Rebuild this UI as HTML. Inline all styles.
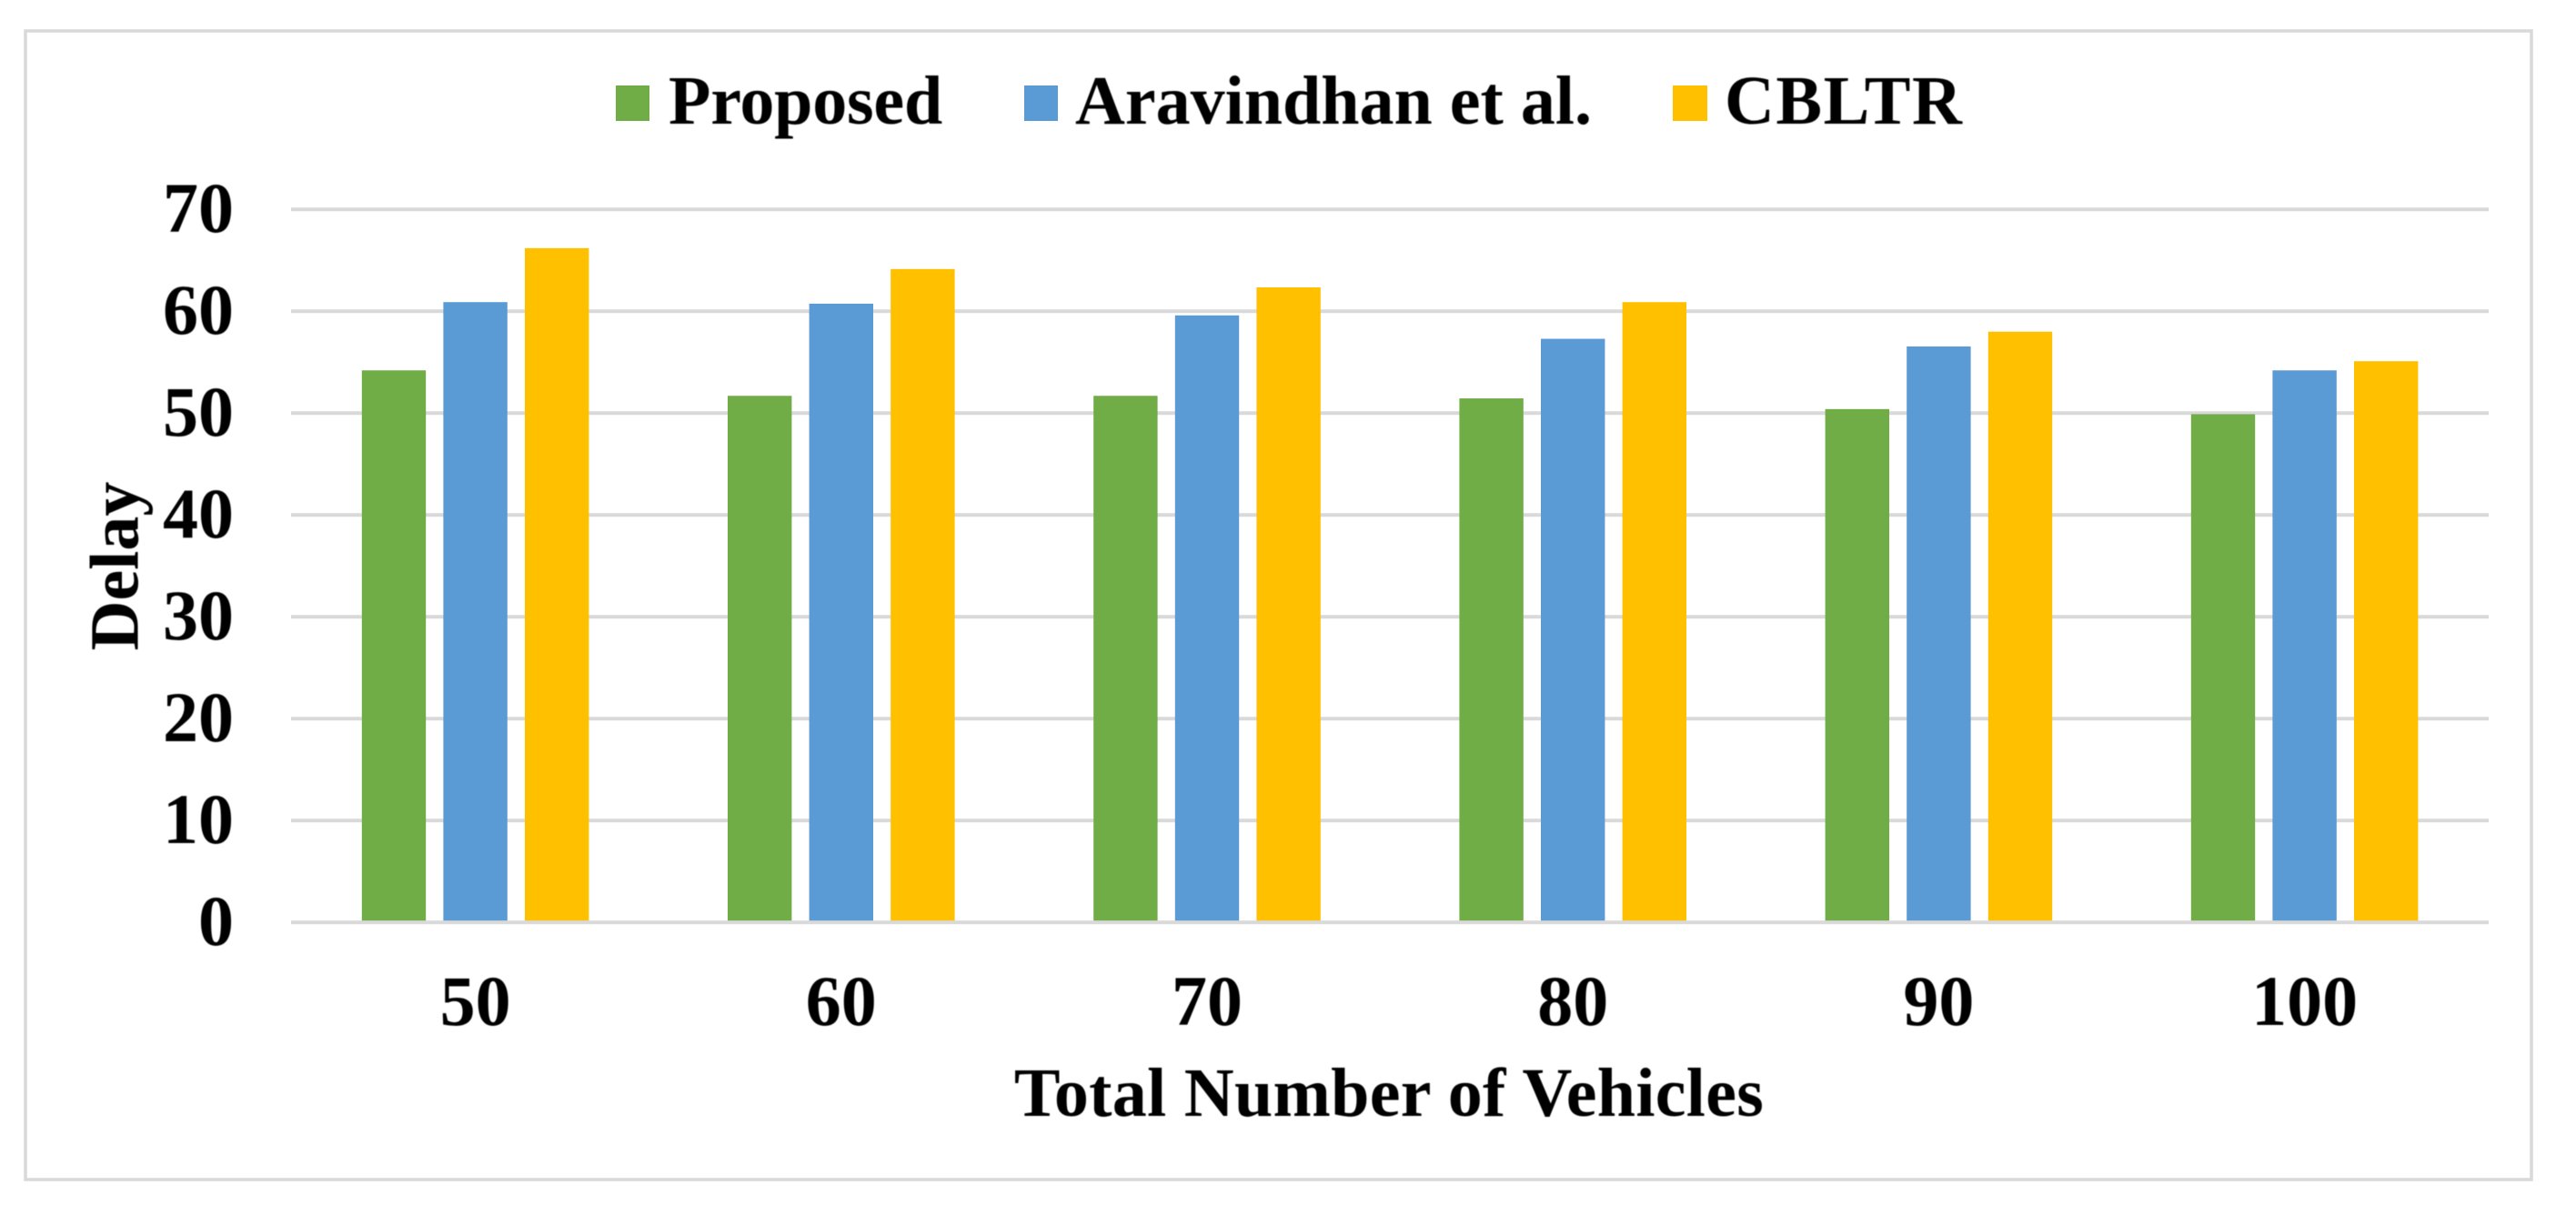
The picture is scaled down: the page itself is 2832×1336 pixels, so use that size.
<!DOCTYPE html>
<html lang="en">
<head>
<meta charset="utf-8">
<title>Delay vs Total Number of Vehicles</title>
<style>
  html, body { margin: 0; padding: 0; background: #ffffff; }
  body { width: 2832px; height: 1336px; overflow: hidden; }
  svg { display: block; }
  text { font-family: "Liberation Serif", "DejaVu Serif", serif; font-weight: 700; fill: #000; filter: blur(0.6px); }
</style>
</head>
<body>
<svg id="chart" xmlns="http://www.w3.org/2000/svg" width="2832" height="1336" viewBox="0 0 2832 1336">
  <rect x="0" y="0" width="2832" height="1336" fill="#ffffff"/>
  <rect x="28" y="34" width="2755" height="1263" fill="none" stroke="#d9d9d9" stroke-width="3.5"/>

  <g id="grid"></g>
  <g id="bars"></g>
  <g id="baseline"></g>
  <g id="yticks"></g>
  <g id="xticks"></g>

  <g>
    <g>
      <rect x="677" y="94" width="37" height="39" fill="#70ad47"/>
      <text x="735" y="136" font-size="76" letter-spacing="-0.2">Proposed</text>
    </g>
    <g>
      <rect x="1126" y="94" width="37" height="39" fill="#5b9bd5"/>
      <text x="1182" y="136" font-size="76">Aravindhan et al.</text>
    </g>
    <g>
      <rect x="1839" y="94" width="38" height="39" fill="#ffc000"/>
      <text x="1896" y="136" font-size="76" letter-spacing="1.5">CBLTR</text>
    </g>
  </g>

  <text font-size="76" text-anchor="middle" transform="translate(151.5 622.5) rotate(-90)">Delay</text>
  <text x="1527" y="1227" font-size="76" letter-spacing="0.3" text-anchor="middle">Total Number of Vehicles</text>
</svg>

<script>
const categories = ["50", "60", "70", "80", "90", "100"];
const yTickValues = [0, 10, 20, 30, 40, 50, 60, 70];
const proposedValues = [54.2, 51.7, 51.7, 51.45, 50.4, 49.9];
const aravindhanValues = [60.9, 60.75, 59.6, 57.3, 56.55, 54.2];
const cbltrValues = [66.2, 64.15, 62.35, 60.9, 58.0, 55.1];

const NS = "http://www.w3.org/2000/svg";
const yZero = 1014.3, yUnit = 11.2;
const bandStart = 321.5, bandStep = 402.2;
const barWidth = 70.4, barPitch = 89.6;
const gridLeft = 320, gridRight = 2736;

function yScale(v) { return yZero - v * yUnit; }
function xCenter(i) { return bandStart + bandStep * (i + 0.5); }

const gridGroup = document.getElementById("grid");
const baselineGroup = document.getElementById("baseline");
const yTickGroup = document.getElementById("yticks");
const xTickGroup = document.getElementById("xticks");
const barGroup = document.getElementById("bars");

yTickValues.forEach(function (v) {
  const line = document.createElementNS(NS, "line");
  
  
  line.setAttribute("x1", gridLeft);
  line.setAttribute("x2", gridRight);
  line.setAttribute("y1", yScale(v));
  line.setAttribute("y2", yScale(v));
  line.setAttribute("stroke", "#d9d9d9");
  line.setAttribute("stroke-width", "4");
  (v === 0 ? baselineGroup : gridGroup).appendChild(line);

  const label = document.createElementNS(NS, "text");
  
  
  label.setAttribute("x", 257);
  label.setAttribute("y", yScale(v) + 24.5);
  label.setAttribute("font-size", "78");
  label.setAttribute("text-anchor", "end");
  label.textContent = String(v);
  yTickGroup.appendChild(label);
});

categories.forEach(function (c, i) {
  const label = document.createElementNS(NS, "text");
  
  
  label.setAttribute("x", xCenter(i));
  label.setAttribute("y", 1127);
  label.setAttribute("font-size", "78");
  label.setAttribute("text-anchor", "middle");
  label.textContent = c;
  xTickGroup.appendChild(label);
});

function drawSeries(values, offset, color, barName) {
  values.forEach(function (v, i) {
    const bar = document.createElementNS(NS, "rect");
    
    
    bar.setAttribute("x", xCenter(i) + offset * barPitch - barWidth / 2);
    bar.setAttribute("y", yScale(v));
    bar.setAttribute("width", barWidth);
    bar.setAttribute("height", yZero - yScale(v));
    bar.setAttribute("fill", color);
    barGroup.appendChild(bar);
  });
}

drawSeries(proposedValues, -1, "#70ad47", "bar-proposed");
drawSeries(aravindhanValues, 0, "#5b9bd5", "bar-aravindhan");
drawSeries(cbltrValues, 1, "#ffc000", "bar-cbltr");
</script>
</body>
</html>
